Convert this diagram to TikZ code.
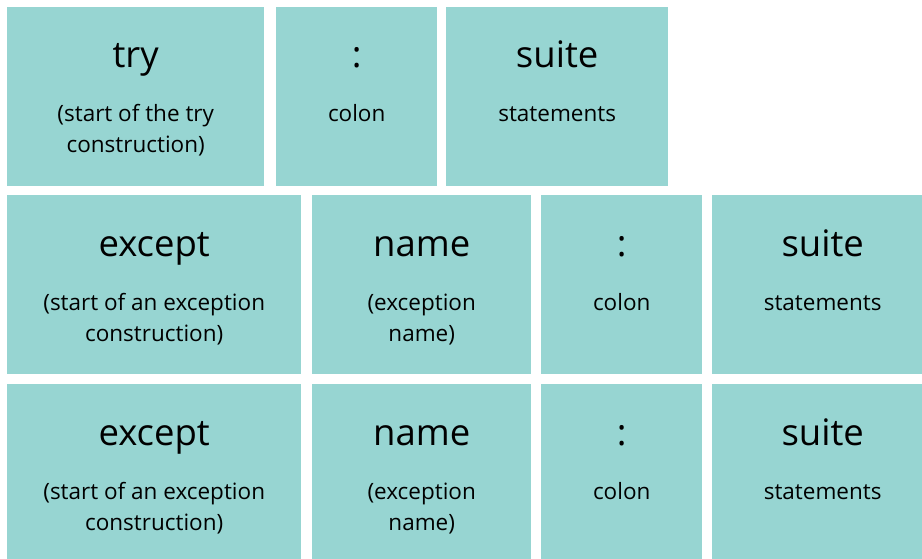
\documentclass[tikz,border=0pt]{standalone}
\usepackage{fontspec}
\setmainfont{Open Sans}
\definecolor{cellfill}{HTML}{97D5D2}
\tikzset{
  cellbox/.style={fill=cellfill, draw=none, inner sep=0pt, anchor=north west},
  ttl/.style={font=\fontsize{36.5}{42}\selectfont, text=black, anchor=base, inner sep=0pt},
  sub/.style={font=\fontsize{22.5}{31}\selectfont, text=black, anchor=base, inner sep=0pt}
}
\newcommand\mkcell[9]{%
  \node[cellbox, minimum width=#4pt-#2pt, minimum height=#5pt-#3pt] (#1) at (#2,#3) {};
  \node[ttl] (#1t) at ([xshift=#9pt,yshift=-61pt]#1.north) {#6};
  \node[sub] (#1a) at ([xshift=#9pt,yshift=-115pt]#1.north) {#7};
  \node[sub] (#1b) at ([xshift=#9pt,yshift=-146pt]#1.north) {#8};
}
\begin{document}
\begin{tikzpicture}[x=1pt,y=-1pt]
\useasboundingbox (0,0) rectangle (922,559);
\mkcell{a1}{7}{7}{264}{186}{try}{(start of the try}{construction)}{0}
\mkcell{a2}{276}{7}{437}{186}{:}{colon}{}{0}
\mkcell{a3}{446}{7}{668}{186}{suite}{statements}{}{0}
\mkcell{b1}{7}{195}{301}{374}{except}{(start of an exception}{construction)}{0}
\mkcell{b2}{312}{195}{531}{374}{name}{(exception}{name)}{0}
\mkcell{b3}{541}{195}{702}{374}{:}{colon}{}{0}
\mkcell{b4}{712}{195}{922}{374}{suite}{statements}{}{5.5}
\mkcell{c1}{7}{384}{301}{559}{except}{(start of an exception}{construction)}{0}
\mkcell{c2}{312}{384}{531}{559}{name}{(exception}{name)}{0}
\mkcell{c3}{541}{384}{702}{559}{:}{colon}{}{0}
\mkcell{c4}{712}{384}{922}{559}{suite}{statements}{}{5.5}
\end{tikzpicture}
\end{document}
